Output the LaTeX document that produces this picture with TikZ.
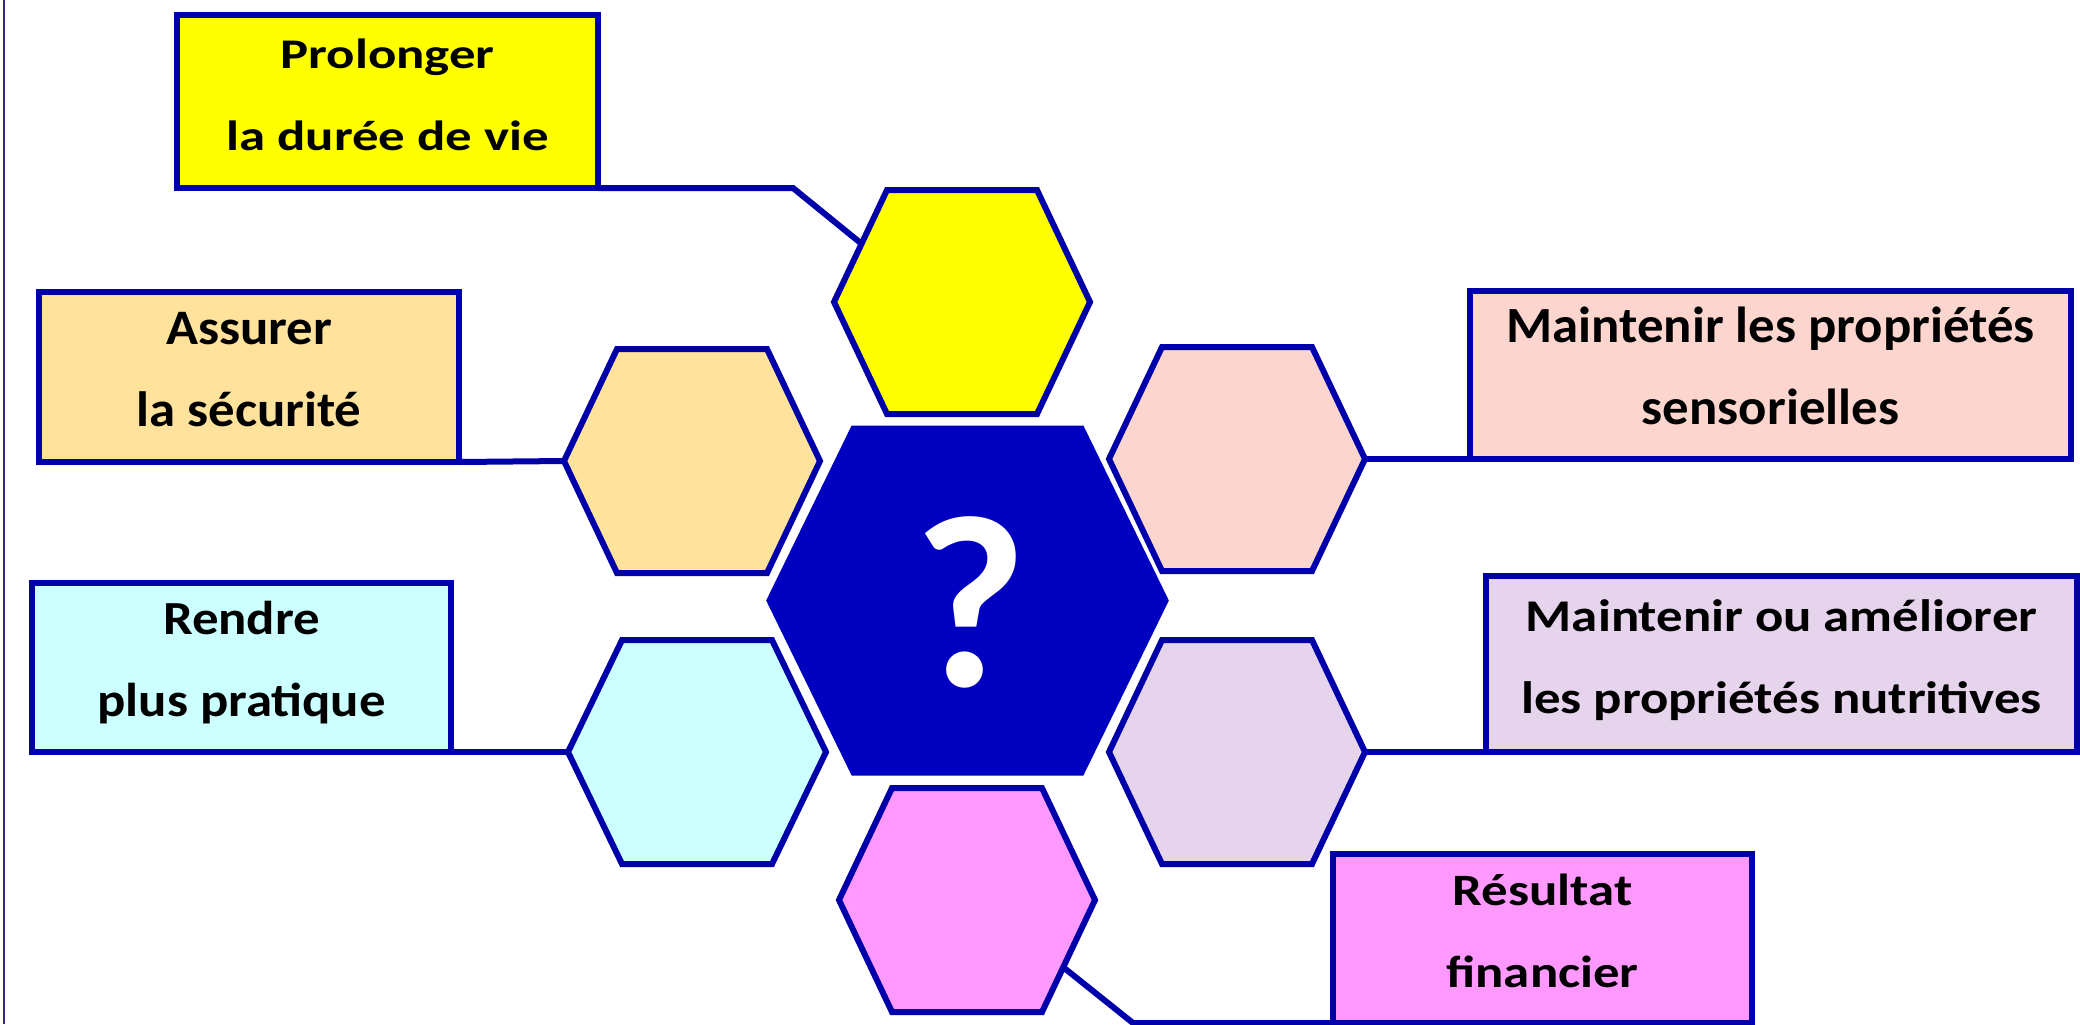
\documentclass[tikz,border=0pt]{standalone}
\usepackage{graphicx}
\usepackage{fontspec}
\setmainfont{Carlito}
\newfontfamily\boxfont{Carlito}
\newfontfamily\qfont{Carlito}
\usetikzlibrary{calc}
\definecolor{hexblue}{RGB}{0,0,170}
\definecolor{qblue}{RGB}{0,0,192}
\definecolor{framec}{RGB}{50,40,130}
\definecolor{yellowf}{RGB}{255,255,0}
\definecolor{wheatf}{RGB}{255,227,156}
\definecolor{cyanf}{RGB}{204,255,255}
\definecolor{peachf}{RGB}{252,213,206}
\definecolor{lavf}{RGB}{229,212,236}
\definecolor{magf}{RGB}{255,153,255}
\tikzset{
  tbox/.style={draw=hexblue, line width=3pt, inner sep=0pt, outer sep=0pt,
    font=\boxfont\bfseries\fontsize{26.4pt}{41pt}\selectfont},
  hexline/.style={draw=hexblue, line width=3pt, line join=miter},
  conn/.style={draw=hexblue, line width=3pt},
  framel/.style={draw=framec, line width=1.1pt}
}
% two lines of box text; #1 = vertical scale of the letters
\newcommand\boxtext[3]{\smash{\raisebox{16.5pt}{\begin{tabular}[t]{@{}c@{}}\scalebox{1}[#1]{#2}\\\scalebox{1}[#1]{#3}\end{tabular}}}}
% name, cx, cy, half width, half top edge, half height
\newcommand\hexcell[6]{%
  \coordinate (#1-L)  at ({#2-#4},{#3});
  \coordinate (#1-R)  at ({#2+#4},{#3});
  \coordinate (#1-TL) at ({#2-#5},{#3-#6});
  \coordinate (#1-TR) at ({#2+#5},{#3-#6});
  \coordinate (#1-BL) at ({#2-#5},{#3+#6});
  \coordinate (#1-BR) at ({#2+#5},{#3+#6});
}
\begin{document}
\begin{tikzpicture}[x=0.5pt,y=-0.5pt]
\useasboundingbox (0,0) rectangle (2080,1024);
\fill[white] (0,0) rectangle (2080,1024);
\draw[framel] (4,0) -- (4,1024);

% hexagon geometry
\hexcell{Y}{962}{302}{128}{75}{112}
\hexcell{O}{692}{461}{128}{75}{112}
\hexcell{C}{697}{752}{129}{75}{112}
\hexcell{P}{1237}{459}{128}{75}{112}
\hexcell{V}{1237}{752}{128}{75}{112}
\hexcell{M}{967}{900}{128}{75}{112}
\hexcell{Q}{967.5}{600.5}{198}{114}{172}

\foreach \h/\f in {Y/yellowf,O/wheatf,C/cyanf,P/peachf,V/lavf,M/magf}{
  \draw[hexline, fill=\f] (\h-L) -- (\h-TL) -- (\h-TR) -- (\h-R) -- (\h-BR) -- (\h-BL) -- cycle;
}
\draw[hexline, draw=qblue, fill=qblue] (Q-L) -- (Q-TL) -- (Q-TR) -- (Q-R) -- (Q-BR) -- (Q-BL) -- cycle;
\node[text=white, inner sep=0pt, font=\qfont\bfseries\fontsize{123pt}{123pt}\selectfont] (qm) at (970,602) {?};

% text boxes
\node[tbox, fill=yellowf, minimum width=210.5pt, minimum height=86.5pt] (prol) at (387.5,101.5) {\boxtext{0.80}{Prolonger}{la durée de vie}};
\node[tbox, fill=wheatf, minimum width=210pt, minimum height=85pt] (assur) at (249,377) {\boxtext{0.94}{Assurer}{la sécurité}};
\node[tbox, fill=cyanf, minimum width=209.5pt, minimum height=84.5pt] (rend) at (241.5,667.5) {\boxtext{0.90}{Rendre}{plus pratique}};
\node[tbox, fill=peachf, minimum width=300.5pt, minimum height=84pt] (sens) at (1770.5,375) {\boxtext{0.96}{Maintenir les propriétés}{sensorielles}};
\node[tbox, fill=lavf, minimum width=295.5pt, minimum height=88pt] (nutr) at (1781.5,664) {\boxtext{0.86}{Maintenir ou améliorer}{les propriétés nutritives}};
\node[tbox, fill=magf, minimum width=209.5pt, minimum height=84.5pt] (resu) at (1542.5,938.5) {\boxtext{0.85}{Résultat}{financier}};

% connectors
\coordinate (ybend) at (793,188);
\coordinate (yhit) at ($(Y-TL)!0.48!(Y-L)$);
\draw[conn] (prol.south east) -- (ybend) -- (yhit);
\draw[conn] (assur.south east) -- (O-L);
\draw[conn] (rend.south east) -- (C-L);
\draw[conn] (P-R) -- (sens.south west);
\draw[conn] (V-R) -- (nutr.south west);
\coordinate (mhit) at ($(M-R)!0.6!(M-BR)$);
\coordinate (mbend) at (1133,1023);
\draw[conn] (mhit) -- (mbend) -- (resu.south west);
\end{tikzpicture}
\end{document}
